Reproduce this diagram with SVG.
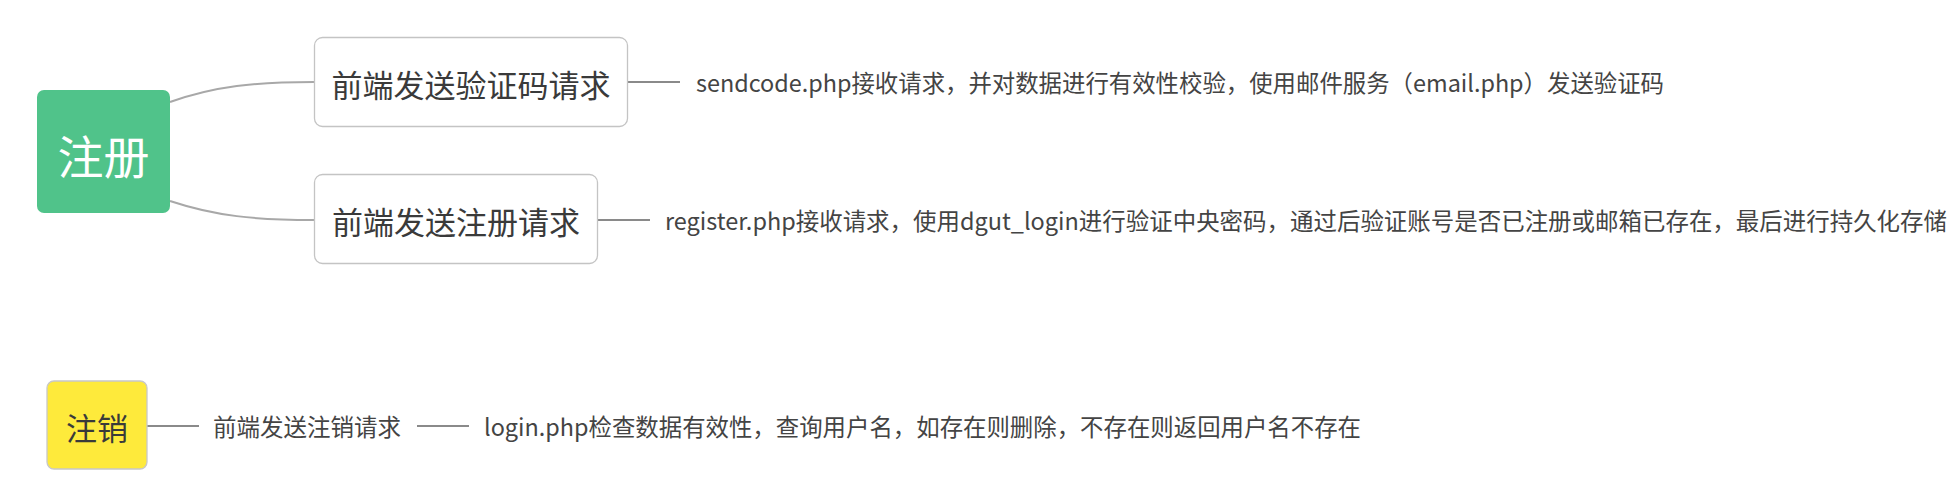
<svg xmlns="http://www.w3.org/2000/svg" width="1957" height="496" viewBox="0 0 1957 496">
  <style>
    text { font-family: "Noto Sans CJK SC", "Microsoft YaHei", sans-serif; dominant-baseline: central; }
    .sub { fill: #ffffff; stroke: #c4c4c4; stroke-width: 1.3; }
    .big { font-size: 31px; fill: #3a3a3a; text-anchor: middle; }
    .desc { font-size: 23.5px; fill: #444444; }
    .curve { fill: none; stroke: #a8a8a8; stroke-width: 2; }
    .line { fill: none; stroke: #8a8a8a; stroke-width: 2; }
  </style>
  <rect width="1957" height="496" fill="#ffffff"/>

  <g id="connectors">
    <path class="curve" d="M170,102 C215,86 255,82 314,82"/>
    <path class="curve" d="M170,201 C215,216 255,220 314,220"/>
    <path class="line" d="M628,82 H680"/>
    <path class="line" d="M598,220 H650"/>
    <path class="line" d="M147,426 H199"/>
    <path class="line" d="M417,426 H469"/>
  </g>

  <g id="node-register">
    <rect x="37" y="90" width="133" height="123" rx="7" fill="#50C38A"/>
    <text x="103.5" y="154" font-size="46" fill="#ffffff" text-anchor="middle">注册</text>
  </g>

  <g id="node-sendcode-request">
    <rect class="sub" x="314.5" y="37.5" width="313" height="89" rx="8"/>
    <text class="big" x="471" y="83">前端发送验证码请求</text>
  </g>

  <g id="node-register-request">
    <rect class="sub" x="314.5" y="174.5" width="283" height="89" rx="8"/>
    <text class="big" x="456" y="220">前端发送注册请求</text>
  </g>

  <g id="node-sendcode-desc">
    <text class="desc" x="696" y="82" textLength="968" lengthAdjust="spacingAndGlyphs">sendcode.php接收请求，并对数据进行有效性校验，使用邮件服务（email.php）发送验证码</text>
  </g>

  <g id="node-register-desc">
    <text class="desc" x="665" y="220" textLength="1282" lengthAdjust="spacingAndGlyphs">register.php接收请求，使用dgut_login进行验证中央密码，通过后验证账号是否已注册或邮箱已存在，最后进行持久化存储</text>
  </g>

  <g id="node-cancel">
    <rect x="47" y="381" width="100" height="88" rx="7" fill="#FEEA3B" stroke="#c8c8c8" stroke-width="1.3"/>
    <text x="97" y="426" font-size="31" fill="#3a3a3a" text-anchor="middle">注销</text>
  </g>

  <g id="node-cancel-request">
    <text class="desc" x="213" y="426" textLength="188" lengthAdjust="spacingAndGlyphs">前端发送注销请求</text>
  </g>

  <g id="node-cancel-desc">
    <text class="desc" x="484" y="426" textLength="877" lengthAdjust="spacingAndGlyphs">login.php检查数据有效性，查询用户名，如存在则删除，不存在则返回用户名不存在</text>
  </g>
</svg>
